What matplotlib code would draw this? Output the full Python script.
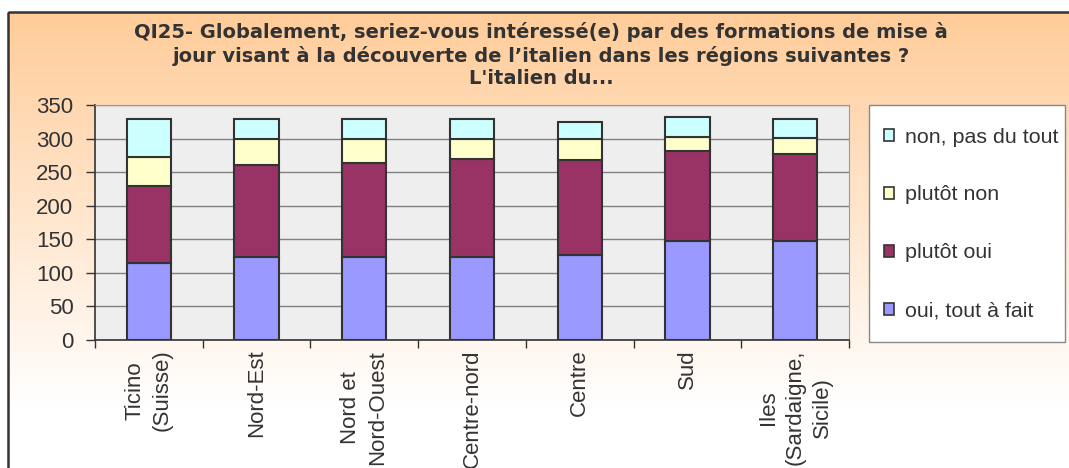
import numpy as np
import matplotlib
matplotlib.use('Agg')
from matplotlib import pyplot as plt
from matplotlib.patches import Patch, Rectangle

plt.rcParams['font.family'] = ['Liberation Sans', 'DejaVu Sans']

regions = ['Ticino\n(Suisse)', 'Nord-Est', 'Nord et\nNord-Ouest', 'Centre-nord',
           'Centre', 'Sud', 'Iles\n(Sardaigne,\nSicile)']
oui_tout_a_fait = [114, 123, 123, 123, 126, 147, 147]
plutot_oui = [116, 137, 140, 146, 142, 134, 130]
plutot_non = [42, 39, 36, 30, 31, 21, 24]
non_pas_du_tout = [57, 30, 30, 30, 26, 30, 28]

series = [
    ('oui, tout à fait', oui_tout_a_fait, '#9999FF'),
    ('plutôt oui', plutot_oui, '#993366'),
    ('plutôt non', plutot_non, '#FFFFCC'),
    ('non, pas du tout', non_pas_du_tout, '#CCFFFF'),
]

title = ("QI25- Globalement, seriez-vous intéressé(e) par des formations de mise à\n"
         "jour visant à la découverte de l\u2019italien dans les régions suivantes ?\n"
         "L'italien du...")

W, H = 1069, 468
fig = plt.figure(figsize=(W / 100, H / 100), dpi=100)

# peach-to-white background inside the chart frame
bg = fig.add_axes([0, 0, 1, 1], zorder=-10)
bg.set_xlim(0, W)
bg.set_ylim(H, 0)
bg.axis('off')
t = np.clip(np.linspace(0, 1, 256) * 1.15, 0, 1)[:, None, None]
top = np.array([1.0, 0.80, 0.60])
bottom = np.array([1.0, 1.0, 1.0])
img = top * (1 - t) + bottom * t
img = np.repeat(img, 2, axis=1)
bg.imshow(img, extent=(8, W, H, 12), aspect='auto', interpolation='bilinear')
bg.add_patch(Rectangle((8, 12), W, H, fill=False, edgecolor='#333333', linewidth=1.8))

ax = fig.add_axes([95 / W, 1 - 340 / H, (849 - 95) / W, (340 - 105) / H])
ax.set_facecolor('#EEEEEE')

x = np.arange(len(regions))
bottom_vals = np.zeros(len(regions))
handles = []
for label, vals, color in series:
    ax.bar(x, vals, 0.41, bottom=bottom_vals, color=color, edgecolor='#333333',
           linewidth=1.5, zorder=3)
    bottom_vals += np.array(vals)
    handles.append(Patch(facecolor=color, edgecolor='#333333', linewidth=1.2, label=label))

ax.set_xlim(-0.5, len(regions) - 0.5)
ax.set_ylim(0, 350)
ax.set_yticks(range(0, 351, 50))
ax.yaxis.grid(True, color='#808080', linewidth=1.0, zorder=1)
ax.tick_params(axis='y', labelsize=16, labelcolor='#333333', length=6.5, width=1,
               color='#333333', pad=9)

ax.set_xticks(x)
ax.set_xticklabels(regions, rotation=90, fontsize=16, color='#333333', va='top',
                   ha='center', multialignment='center', linespacing=1.38)
ax.tick_params(axis='x', length=0, pad=7)
ax.set_xticks(np.arange(-0.5, len(regions), 1), minor=True)
ax.tick_params(axis='x', which='minor', length=6, width=1, color='#333333')

for side in ['top', 'right']:
    ax.spines[side].set_color('#999999')
ax.spines['left'].set_color('#333333')
ax.spines['bottom'].set_color('#333333')
ax.spines['left'].set_linewidth(1.2)
ax.spines['bottom'].set_linewidth(1.2)

fig.text(541 / W, 1 - 22 / H, title, ha='center', va='top', fontsize=14,
         family='DejaVu Sans', fontweight='bold', color='#333333', linespacing=1.22)

# legend box
bg.add_patch(Rectangle((869, 105), 1065 - 869, 342 - 105, facecolor='white',
                       edgecolor='#888888', linewidth=1.0, zorder=2))
fig.legend(handles=handles[::-1], loc='upper left',
           bbox_to_anchor=(875 / W, 1 - 119 / H), frameon=False, fontsize=15.4,
           labelcolor='#333333', handlelength=0.5, handleheight=0.5,
           handletextpad=0.5, labelspacing=1.82, borderaxespad=0)

fig.savefig('out.png', dpi=100)
